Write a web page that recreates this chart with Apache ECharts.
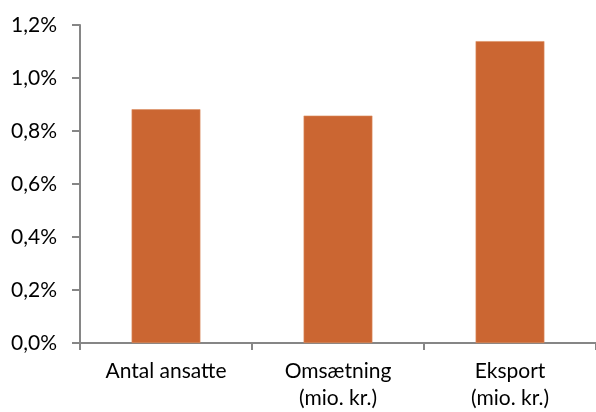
<!DOCTYPE html>
<html>
<head>
<meta charset="utf-8">
<script src="https://cdn.jsdelivr.net/npm/echarts@6/dist/echarts.min.js"></script>
<style>
  html, body { margin: 0; padding: 0; background: #fff; }
  #chart { width: 596px; height: 412px; }
</style>
</head>
<body>
<div id="chart"></div>
<script>
// Categories and their shares (in percent)
const categories = ['Antal ansatte', 'Omsætning\n(mio. kr.)', 'Eksport\n(mio. kr.)'];
const shares = [0.882, 0.858, 1.139];
const yTicks = { min: 0, max: 1.2, interval: 0.2 };

const axisGray = '#868686';
const font = 'Lato, "Open Sans", sans-serif';

const chart = echarts.init(document.getElementById('chart'));
chart.setOption({
  animation: false,
  grid: { left: 80, right: -9, top: 25, bottom: 68, containLabel: false },
  xAxis: {
    type: 'category',
    data: categories,
    axisLine: { lineStyle: { color: axisGray, width: 2 } },
    axisTick: { show: true, length: 7, alignWithLabel: false, lineStyle: { color: axisGray, width: 2 } },
    axisLabel: { color: '#000', fontFamily: font, fontSize: 21, margin: 15, lineHeight: 27, interval: 0 }
  },
  yAxis: {
    type: 'value',
    min: yTicks.min,
    max: yTicks.max,
    interval: yTicks.interval,
    axisLine: { show: true, lineStyle: { color: axisGray, width: 2 } },
    axisTick: { show: true, length: 8, lineStyle: { color: axisGray, width: 2 } },
    splitLine: { show: false },
    axisLabel: {
      color: '#000', fontFamily: font, fontSize: 21, margin: 23,
      formatter: v => v.toFixed(1).replace('.', ',') + '%'
    }
  },
  series: [{
    type: 'bar',
    data: shares,
    barWidth: '40%',
    itemStyle: { color: '#CB6632', borderColor: '#DC8E62', borderWidth: 0.6 }
  }]
});
</script>
</body>
</html>
